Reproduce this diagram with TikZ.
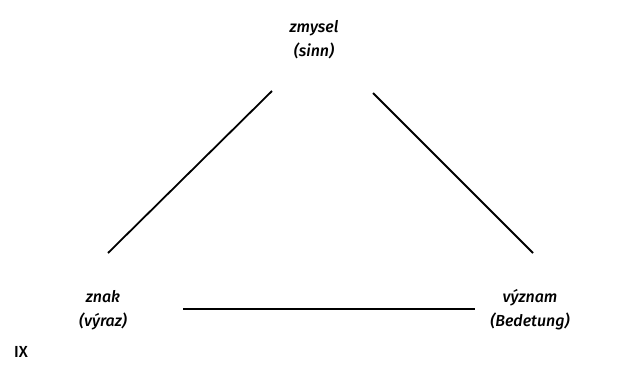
\documentclass[tikz,border=0pt]{standalone}
\usepackage{fontspec}
\setmainfont{Fira Sans}[UprightFont=* Medium, ItalicFont=* Medium Italic]
\begin{document}
\begin{tikzpicture}[x=1pt,y=-1pt,
  lbl/.style={font=\fontsize{16}{24}\selectfont\itshape, align=center, inner sep=0pt},
  conn/.style={line width=1.8pt}]
\useasboundingbox (0,0) rectangle (630,370);
\node[lbl] (top) at (314,40) {zmysel\\(sinn)};
\node[lbl] (left) at (103,310) {znak\\(výraz)};
\node[lbl] (right) at (530,310) {význam\\(Bedetung)};
\node[font=\fontsize{16}{24}\selectfont, inner sep=0pt] (ix) at (21,352) {IX};
\coordinate (l1) at (108,253);
\coordinate (l2) at (272,91);
\coordinate (r1) at (373,93);
\coordinate (r2) at (533,253);
\coordinate (b1) at (183,309);
\coordinate (b2) at (475,309);
\draw[conn] (l1) -- (l2);
\draw[conn] (r1) -- (r2);
\draw[conn] (b1) -- (b2);
\end{tikzpicture}
\end{document}
